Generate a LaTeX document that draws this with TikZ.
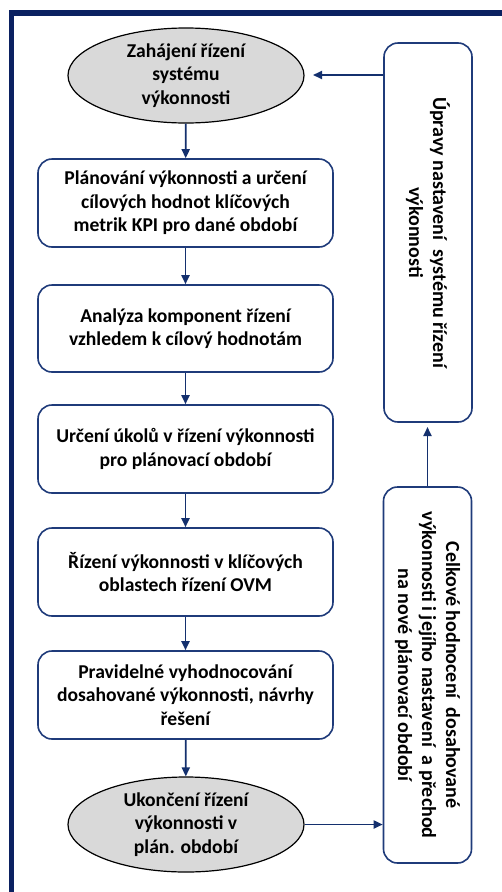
\documentclass[tikz,border=0pt]{standalone}
\usepackage{fontspec}
\setmainfont{Carlito}
\usetikzlibrary{arrows.meta,shapes.geometric}
\definecolor{framec}{HTML}{0B2161}
\definecolor{navy}{HTML}{1F3B7A}
\definecolor{arrowc}{HTML}{14306E}
\definecolor{ovalc}{HTML}{D9D9D9}
\begin{document}
\begin{tikzpicture}[x=1pt,y=-1pt,
  every node/.style={font=\fontsize{19.6}{23.5}\selectfont\bfseries, align=center, inner sep=0pt},
  stepbox/.style={draw=navy, line width=1.6pt, rounded corners=14pt, minimum width=295pt, minimum height=88pt},
  oval/.style={ellipse, draw=black, fill=ovalc, line width=1.2pt, minimum width=236pt, minimum height=95pt},
  sidebox/.style={draw=navy, line width=1.6pt, rounded corners=14pt, rotate=-90, minimum height=88pt,
    font=\fontsize{20}{24}\selectfont\bfseries},
  flow/.style={draw=arrowc, line width=1.8pt, -{Triangle[length=9pt,width=8pt]}}]
% page area and outer frame
\useasboundingbox (0,0) rectangle (502,892);
\clip (0,0) rectangle (502,892);
\fill[white] (0,0) rectangle (502,892);
\draw[framec, line width=5.5pt] (11.5,13) rectangle (560,950);

% main flow
\node[oval] (start) at (186,75.5) {Zahájení řízení\\systému\\výkonnosti};
\node[stepbox] (plan) at (185.5,203) {Plánování výkonnosti a určení\\cílových hodnot klíčových\\metrik KPI pro dané období};
\node[stepbox, minimum height=87pt] (anal) at (185.5,328.5) {Analýza komponent řízení\\vzhledem k cílový hodnotám};
\node[stepbox] (ukol) at (185.5,449) {Určení úkolů v řízení výkonnosti\\pro plánovací období};
\node[stepbox] (rizeni) at (185.5,572) {Řízení výkonnosti v klíčových\\oblastech řízení OVM};
\node[stepbox] (vyhod) at (185.5,695) {Pravidelné vyhodnocování\\dosahované výkonnosti, návrhy\\řešení};
\node[oval] (konec) at (186,824.5) {Ukončení řízení\\výkonnosti v\\plán. období};

% feedback column
\node[sidebox, minimum width=379pt] (uprava) at (428,232.5) {Úpravy nastavení\ \ systému řízení\\výkonnosti};
\node[sidebox, minimum width=376pt] (celk) at (427.5,675) {Celkové hodnocení\ \ dosahované\\výkonnosti i jejího nastavení\ \ a přechod\\na nové plánovací období};

\coordinate (startin) at (313,75);
\coordinate (upravin) at (427.5,427);

% connectors
\draw[flow] (start) -- (plan);
\draw[flow] (plan) -- (anal);
\draw[flow] (anal) -- (ukol);
\draw[flow] (ukol) -- (rizeni);
\draw[flow] (rizeni) -- (vyhod);
\draw[flow] (vyhod) -- (konec);
\draw[flow] (konec.east) -- (konec.east -| celk.south);
\draw[flow] (celk.west) -- (upravin);
\draw[flow] (startin -| uprava.south) -- (startin);
\end{tikzpicture}
\end{document}
